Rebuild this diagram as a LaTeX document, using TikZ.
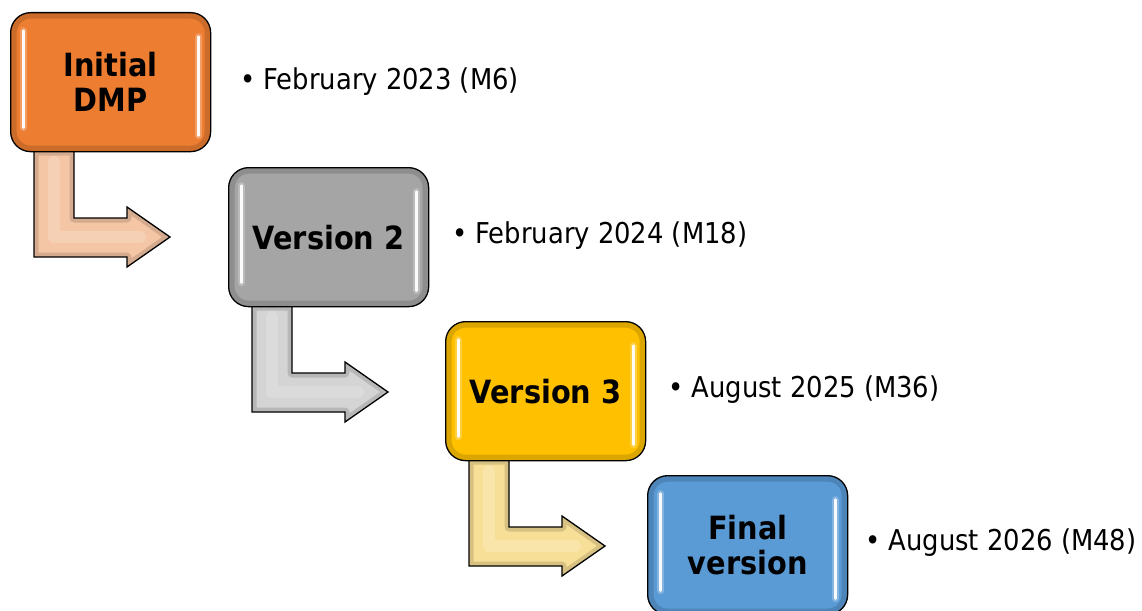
\documentclass[tikz,border=0pt]{standalone}
\usepackage{fontspec}
\setmainfont{DejaVu Sans Condensed}
\definecolor{corange}{HTML}{ED7D31}
\definecolor{cgray}{HTML}{A5A5A5}
\definecolor{cgold}{HTML}{FFC000}
\definecolor{cblue}{HTML}{5B9BD5}
\definecolor{apeach}{HTML}{F5C6A5}
\definecolor{agray}{HTML}{D4D4D4}
\definecolor{ayellow}{HTML}{F8DF97}
\newcommand\elbowpath{(24,139) -- (64,139) -- (64,206) -- (117,206) -- (117,195) -- (160,225) -- (117,255) -- (117,245) -- (24,245) -- cycle}
\newcommand\elbowarrow[2]{%
  \begin{scope}[shift={(#1)}]
    \fill[#2] \elbowpath;
    \begin{scope}
      \clip \elbowpath;
      \draw[line width=9pt, #2!70!black, opacity=0.45, line join=round] \elbowpath;
      \draw[line width=12pt, white, opacity=0.18, line cap=round, line join=round] (44,150) -- (44,225) -- (130,225);
    \end{scope}
    \draw[black, line width=1.3pt, line join=miter] \elbowpath;
  \end{scope}}
\tikzset{
  stage/.style={draw=black, line width=1.3pt, rounded corners=20pt,
    minimum width=200pt, minimum height=139pt, anchor=north west,
    inner sep=0pt, align=center, text=black,
    font=\bfseries\fontsize{32}{35}\selectfont,
    fill=#1,
    path picture={
      \draw[line width=12pt, #1!55!black, opacity=0.3, rounded corners=20pt]
        (path picture bounding box.north west) rectangle (path picture bounding box.south east);
      \draw[white, line width=7pt, opacity=0.25, line cap=round]
        ([shift={(13pt,-18pt)}]path picture bounding box.north west) -- ([shift={(13pt,24pt)}]path picture bounding box.south west);
      \draw[white, line width=2.5pt, opacity=0.95, line cap=round]
        ([shift={(13pt,-18pt)}]path picture bounding box.north west) -- ([shift={(13pt,24pt)}]path picture bounding box.south west);
      \draw[white, line width=7pt, opacity=0.25, line cap=round]
        ([shift={(-12pt,-24pt)}]path picture bounding box.north east) -- ([shift={(-12pt,16pt)}]path picture bounding box.south east);
      \draw[white, line width=2.5pt, opacity=0.95, line cap=round]
        ([shift={(-12pt,-24pt)}]path picture bounding box.north east) -- ([shift={(-12pt,16pt)}]path picture bounding box.south east);
    }},
  note/.style={anchor=base west, inner sep=0pt, text=black,
    font=\fontsize{28.7}{34}\selectfont},
}
\begin{document}
\begin{tikzpicture}[x=1pt, y=-1pt]
\useasboundingbox (0,0) rectangle (1142,610);
% arrows first (under boxes)
\coordinate (o1) at (10,12);
\coordinate (o2) at (228,167);
\coordinate (o3) at (445,321);
\elbowarrow{o1}{apeach}
\elbowarrow{o2}{agray}
\elbowarrow{o3}{ayellow}
% boxes
\node[stage=corange] (b1) at (o1) {Initial\\DMP};
\node[stage=cgray] (b2) at (o2) {Version 2};
\node[stage=cgold] (b3) at (o3) {Version 3};
\node[stage=cblue] (b4) at (647,475) {Final\\version};
% notes
\node[note] (t1) at (240,89) {• February 2023 (M6)};
\node[note] (t2) at (452,243) {• February 2024 (M18)};
\node[note] (t3) at (668,397) {• August 2025 (M36)};
\node[note] (t4) at (865,550) {• August 2026 (M48)};
\end{tikzpicture}
\end{document}
